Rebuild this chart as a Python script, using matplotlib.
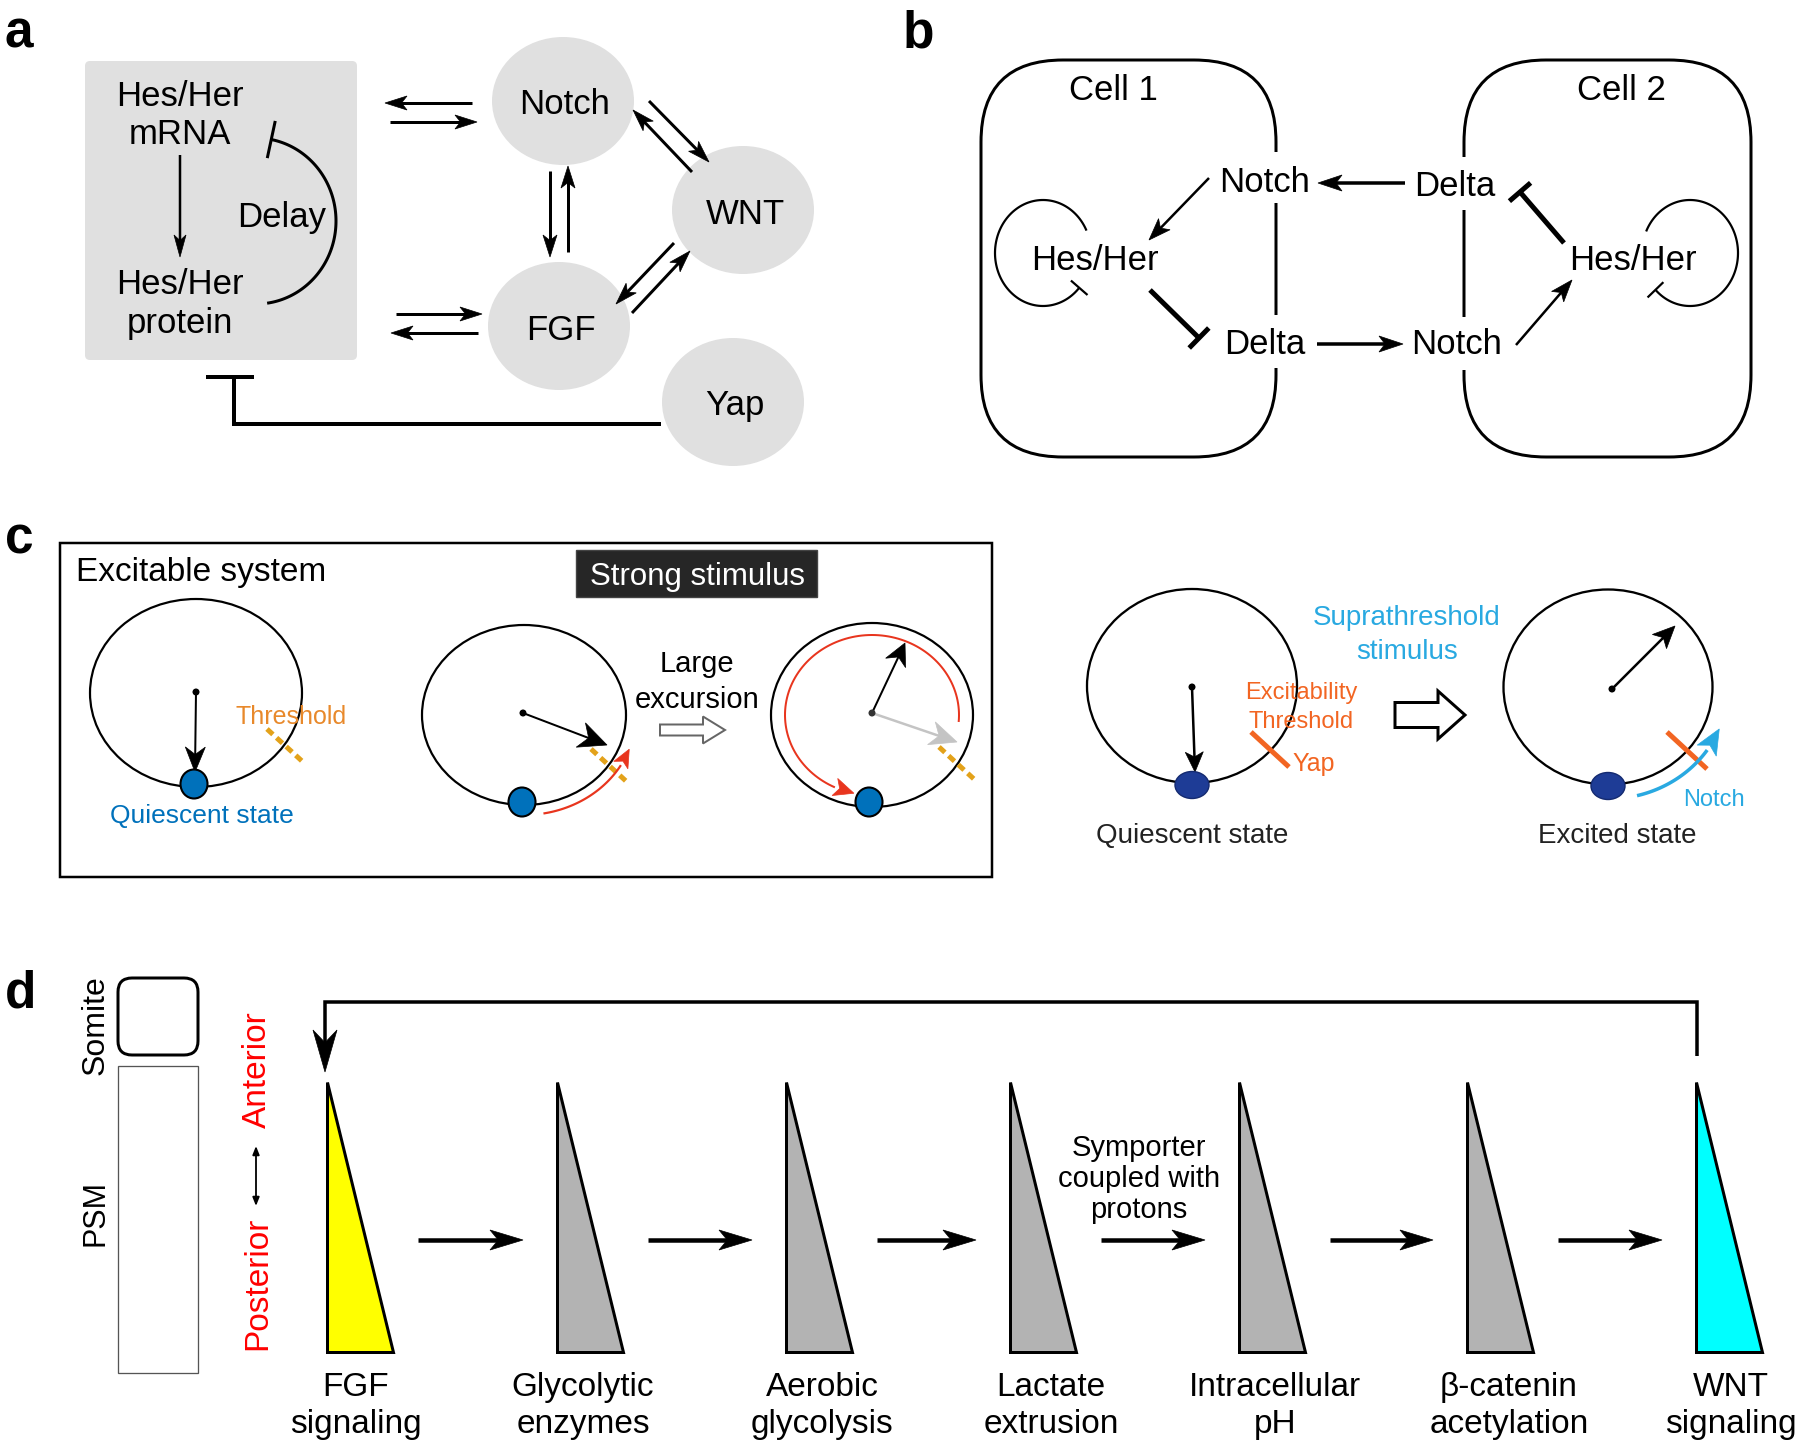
import numpy as np
import matplotlib
matplotlib.use("Agg")
import matplotlib.pyplot as plt
from matplotlib.patches import Ellipse, Polygon, FancyBboxPatch, Rectangle

plt.rcParams['font.family'] = ['Liberation Sans', 'DejaVu Sans']

# ---- content ----
panel_letters = ["a", "b", "c", "d"]

a_nodes = ["Notch", "WNT", "FGF", "Yap"]
a_box_text = [["Hes/Her", "mRNA"], ["Hes/Her", "protein"]]
a_delay = "Delay"

b_cells = ["Cell 1", "Cell 2"]
b_top = ["Notch", "Delta"]
b_bottom = ["Delta", "Notch"]
b_hes = "Hes/Her"

c_title = "Excitable system"
c_stimulus = "Strong stimulus"
c_excursion = ["Large", "excursion"]
c_threshold = "Threshold"
c_quiescent = "Quiescent state"
c_supra = ["Suprathreshold", "stimulus"]
c_excit = ["Excitability", "Threshold"]
c_states = ["Quiescent state", "Excited state"]
c_players = ["Yap", "Notch"]

d_steps = [["FGF", "signaling"], ["Glycolytic", "enzymes"], ["Aerobic", "glycolysis"],
           ["Lactate", "extrusion"], ["Intracellular", "pH"], ["β-catenin", "acetylation"],
           ["WNT", "signaling"]]
d_fills = ["#ffff00", "#b3b3b3", "#b3b3b3", "#b3b3b3", "#b3b3b3", "#b3b3b3", "#00ffff"]
d_note = ["Symporter", "coupled with", "protons"]
d_axis = ["Somite", "PSM", "Anterior", "Posterior"]

PT = 0.72  # points per pixel

fig = plt.figure(figsize=(18, 14.48), dpi=100)
ax = fig.add_axes([0, 0, 1, 1])
ax.set_xlim(0, 1800)
ax.set_ylim(1448, 0)
ax.axis('off')


def txt(x, y, s, fs, color='k', ha='center', weight='normal', z=5):
    ax.text(x, y + fs * 0.5, s, fontsize=fs, color=color, ha=ha, va='baseline',
            fontweight=weight, zorder=z)


def vtxt(x, y, s, fs, color='k'):
    ax.text(x + fs * 0.5, y, s, fontsize=fs, color=color, ha='center', va='baseline',
            rotation=90, rotation_mode='anchor')


def line(xs, ys, lw=3, color='k', z=3, **kw):
    ax.plot(xs, ys, color=color, lw=lw * PT, solid_capstyle='butt',
            solid_joinstyle='miter', zorder=z, **kw)


def head(x0, y0, x1, y1, hl, hw, color='k', notch=0.25, z=4):
    d = np.array([x1 - x0, y1 - y0], float)
    d /= np.hypot(*d)
    n = np.array([-d[1], d[0]])
    tip = np.array([x1, y1], float)
    base = tip - d * hl
    pts = [tip, base + n * hw, tip - d * hl * (1 - notch), base - n * hw]
    ax.add_patch(Polygon(pts, closed=True, fc=color, ec=color, lw=0.5, zorder=z))


def arrow(x0, y0, x1, y1, lw=3, hl=22, hw=7, color='k', notch=0.25):
    d = np.array([x1 - x0, y1 - y0], float)
    d /= np.hypot(*d)
    ex, ey = np.array([x1, y1]) - d * hl * (1 - notch) * 0.9
    line([x0, ex], [y0, ey], lw, color)
    head(x0, y0, x1, y1, hl, hw, color, notch)


def tbar(x0, y0, x1, y1, lw=3, half=12, color='k', blw=None):
    line([x0, x1], [y0, y1], lw, color)
    d = np.array([x1 - x0, y1 - y0], float)
    d /= np.hypot(*d)
    n = np.array([-d[1], d[0]])
    line([x1 + n[0] * half, x1 - n[0] * half], [y1 + n[1] * half, y1 - n[1] * half],
         blw or lw, color)


def arc_pts(cx, cy, rx, ry, t0, t1, n=120):
    t = np.radians(np.linspace(t0, t1, n))
    return cx + rx * np.cos(t), cy + ry * np.sin(t)


def curved_arrow(xs, ys, lw, hl, hw, color='k'):
    dist = np.hypot(xs - xs[-1], ys - ys[-1])
    k = np.where(dist >= hl)[0][-1]
    line(xs[:k + 2], ys[:k + 2], lw, color)
    head(xs[k], ys[k], xs[-1], ys[-1], hl, hw, color)


def hollow(x0, x1, yc, sh, hh, hl, ec, lw):
    pts = [(x0, yc - sh / 2), (x1 - hl, yc - sh / 2), (x1 - hl, yc - hh / 2), (x1, yc),
           (x1 - hl, yc + hh / 2), (x1 - hl, yc + sh / 2), (x0, yc + sh / 2)]
    ax.add_patch(Polygon(pts, closed=True, fc='white', ec=ec, lw=lw * PT, zorder=4,
                         joinstyle='miter'))


# ---- panel letters ----
for letter, (lx, ly) in zip(panel_letters, [(4, 47), (903, 47), (5, 553), (5, 1007)]):
    ax.text(lx, ly, letter, fontsize=37, fontweight='bold', ha='left', va='baseline')

# ---- panel a ----
GRAY = '#e0e0e0'
ax.add_patch(FancyBboxPatch((85, 61), 272, 299, boxstyle='round,pad=0,rounding_size=5',
                            fc=GRAY, ec='none', zorder=1))
for (cx, cy), name in zip([(563, 101), (743, 210), (559, 326), (733, 402)], a_nodes):
    ax.add_patch(Ellipse((cx, cy), 142, 128, fc=GRAY, ec='none', zorder=1))
    txt(cx + 2, cy + 1, name, 25)

txt(180, 93, a_box_text[0][0], 25)
txt(180, 131, a_box_text[0][1], 25)
txt(180, 282, a_box_text[1][0], 25)
txt(180, 320, a_box_text[1][1], 25)
arrow(180, 155, 180, 257, lw=2.5, hl=22, hw=6)

xs, ys = arc_pts(256, 221, 80, 83, 82, -79)
line(xs, ys, 3)
tx, ty = xs[-1], ys[-1]
dx, dy = xs[-1] - xs[-2], ys[-1] - ys[-2]
nrm = np.hypot(dx, dy)
nx, ny = -dy / nrm, dx / nrm
line([tx + nx * 19, tx - nx * 19], [ty + ny * 19, ty - ny * 19], 3)
txt(282, 215, a_delay, 25)

for seg in [(472, 103, 385, 103), (390, 122, 477, 122), (396, 314, 482, 314),
            (478, 333, 391, 333), (550, 171, 550, 257), (568, 252, 568, 166),
            (649, 101, 709, 162), (692, 172, 633, 110), (674, 243, 616, 304),
            (632, 313, 690, 251)]:
    arrow(*seg, lw=3, hl=22, hw=7)

line([661, 234, 234], [424, 424, 377], 4)
line([206, 254], [377, 377], 4)

# ---- panel b ----
for x0, w in [(981, 295), (1464, 287)]:
    ax.add_patch(FancyBboxPatch((x0, 60), w, 397, boxstyle='round,pad=0,rounding_size=82',
                                fc='none', ec='k', lw=3 * PT, zorder=2))
for gx, g0, g1 in [(1276, 152, 203), (1276, 315, 368), (1464, 157, 210), (1464, 317, 370)]:
    ax.add_patch(Rectangle((gx - 6, g0), 12, g1 - g0, fc='white', ec='none', zorder=2.5))

txt(1113, 88, b_cells[0], 25)
txt(1621, 88, b_cells[1], 25)
txt(1265, 180, b_top[0], 25)
txt(1455, 183, b_top[1], 25)
txt(1265, 342, b_bottom[0], 25)
txt(1457, 342, b_bottom[1], 25)
txt(1095, 257, b_hes, 25)
txt(1633, 257, b_hes, 25)

arrow(1405, 183, 1318, 183, lw=3.5, hl=24, hw=8)
arrow(1317, 344, 1403, 344, lw=3.5, hl=24, hw=8)
arrow(1209, 178, 1149, 240, lw=2.5, hl=22, hw=8)
arrow(1516, 345, 1572, 280, lw=2.5, hl=22, hw=8)
tbar(1150, 290, 1199, 338, lw=5, half=14)
tbar(1564, 243, 1520, 192, lw=5, half=14)

for (cx, t0, t1) in [(1043, -25, -319), (1690, 204, 496)]:
    xs, ys = arc_pts(cx, 253, 48, 53, t0, t1)
    line(xs, ys, 2.2)
    tt = np.radians(t1)
    ex, ey = xs[-1], ys[-1]
    rx_, ry_ = np.cos(tt), np.sin(tt)
    line([ex - rx_ * 11, ex + rx_ * 11], [ey - ry_ * 11, ey + ry_ * 11], 2.2)

# ---- panel c ----
ax.add_patch(Rectangle((60, 543), 932, 334, fc='none', ec='k', lw=2.5 * PT, zorder=2))
txt(76, 569, c_title, 24, ha='left')
ax.add_patch(Rectangle((576, 550), 241, 47, fc='#262626', ec='#444444', lw=1, zorder=2))
txt(697, 574, c_stimulus, 22.5, color='white')

BLUE = '#0071bb'
DBLUE = '#1e3c96'
GOLD = '#e3a21a'
RED = '#e8351e'
ORANGE = '#f26522'
SKY = '#29a9e1'

# circle 1
ax.add_patch(Ellipse((196, 693), 212, 188, fc='none', ec='k', lw=2.2 * PT, zorder=2))
ax.add_patch(Ellipse((196, 692), 7, 7, fc='k', ec='none', zorder=4))
arrow(196, 692, 195, 772, lw=2, hl=25, hw=10, notch=0.3)
ax.add_patch(Ellipse((194, 784), 27, 29, fc=BLUE, ec='k', lw=1.5, zorder=5))
line([267, 303], [729, 762], 5, GOLD, ls=(0, (1.6, 1.0)))
txt(236, 715, c_threshold, 18, color='#e8892b', ha='left')
txt(202, 813, c_quiescent, 19, color=BLUE)

# circle 2
ax.add_patch(Ellipse((524, 715), 204, 180, fc='none', ec='k', lw=2.2 * PT, zorder=2))
ax.add_patch(Ellipse((523, 713), 7, 7, fc='k', ec='none', zorder=4))
arrow(523, 713, 607, 745, lw=2, hl=28, hw=13, notch=0.3)
line([591, 627], [749, 782], 5, GOLD, ls=(0, (1.6, 1.0)))
xs, ys = arc_pts(524, 715, 112, 100, 80, 20)
curved_arrow(xs, ys, 2.2, 18, 8, RED)
ax.add_patch(Ellipse((522, 802), 27, 29, fc=BLUE, ec='k', lw=1.5, zorder=5))

txt(697, 661, c_excursion[0], 21)
txt(697, 698, c_excursion[1], 21)
hollow(660, 725, 730, 11, 27, 22, '#666666', 2)

# circle 3
ax.add_patch(Ellipse((872, 715), 202, 184, fc='none', ec='k', lw=2.2 * PT, zorder=2))
xs, ys = arc_pts(872, 715, 87, 80, 5, -258)
curved_arrow(xs, ys, 2, 20, 9, RED)
arrow(872, 713, 957, 742, lw=2.5, hl=27, hw=12, color='#c4c4c4', notch=0.3)
arrow(872, 713, 905, 643, lw=2, hl=22, hw=11, notch=0.3)
ax.add_patch(Ellipse((872, 713), 7, 7, fc='#333333', ec='none', zorder=5))
line([939, 975], [747, 780], 5, GOLD, ls=(0, (1.6, 1.0)))
ax.add_patch(Ellipse((869, 802), 27, 29, fc=BLUE, ec='k', lw=1.5, zorder=5))

# circle 4 (right)
ax.add_patch(Ellipse((1192, 686), 210, 194, fc='none', ec='k', lw=2.3 * PT, zorder=2))
ax.add_patch(Ellipse((1192, 687), 7, 7, fc='k', ec='none', zorder=4))
arrow(1192, 687, 1195, 772, lw=2.5, hl=20, hw=9)
ax.add_patch(Ellipse((1192, 785), 34, 27, fc=DBLUE, ec='#142a70', lw=1, zorder=5))
txt(1301, 691, c_excit[0], 17, color=ORANGE)
txt(1301, 720, c_excit[1], 17, color=ORANGE)
line([1251, 1289], [732, 767], 5, ORANGE)
txt(1292, 762, c_players[0], 18, color=ORANGE, ha='left')
txt(1407, 615, c_supra[0], 20, color=SKY)
txt(1407, 649, c_supra[1], 20, color=SKY)
hollow(1395, 1465, 715, 25, 48, 27, 'k', 3)
txt(1192, 833, c_states[0], 20, color='#222222')

# circle 5
ax.add_patch(Ellipse((1608, 687), 209, 195, fc='none', ec='k', lw=2.3 * PT, zorder=2))
ax.add_patch(Ellipse((1612, 689), 7, 7, fc='k', ec='none', zorder=4))
arrow(1612, 689, 1675, 626, lw=2.5, hl=22, hw=10)
ax.add_patch(Ellipse((1608, 786), 34, 27, fc=DBLUE, ec='#142a70', lw=1, zorder=5))
line([1667, 1707], [732, 769], 5, ORANGE)
xs, ys = arc_pts(1608, 687, 120, 112, 76, 22)
curved_arrow(xs, ys, 3.5, 25, 11, SKY)
txt(1714, 797, c_players[1], 17, color=SKY)
txt(1617, 833, c_states[1], 20, color='#222222')

# ---- panel d ----
ax.add_patch(FancyBboxPatch((118, 978), 80, 77, boxstyle='round,pad=0,rounding_size=14',
                            fc='none', ec='k', lw=3 * PT, zorder=2))
ax.add_patch(Rectangle((118, 1066), 80, 307, fc='none', ec='#555555', lw=1.3 * PT, zorder=2))
vtxt(92, 1025, d_axis[0], 23)
vtxt(92, 1213, d_axis[1], 22)
vtxt(254, 1070, d_axis[2], 24, color='red')
vtxt(254, 1283, d_axis[3], 24, color='red')
ax.annotate('', xy=(256, 1146), xytext=(256, 1206),
            arrowprops=dict(arrowstyle='<|-|>,head_length=0.5,head_width=0.2',
                            color='k', lw=1.3, shrinkA=0, shrinkB=0))

tri_left = [327, 557, 786, 1010, 1239, 1467, 1696]
label_x = [356, 583, 822, 1051, 1275, 1509, 1731]
TW, TTOP, TBOT = 66, 1082, 1352
for i, (xl, step, fill) in enumerate(zip(tri_left, d_steps, d_fills)):
    ax.add_patch(Polygon([(xl, TTOP), (xl, TBOT), (xl + TW, TBOT)], closed=True,
                         fc=fill, ec='k', lw=3 * PT, joinstyle='miter', zorder=3))
    txt(label_x[i], 1384, step[0], 24)
    txt(label_x[i], 1421, step[1], 24)
    if i < len(tri_left) - 1:
        arrow(xl + TW + 25, 1240, tri_left[i + 1] - 34, 1240, lw=4.5, hl=33, hw=10, notch=0.25)

for k, s in enumerate(d_note):
    txt(1139, 1145 + k * 31.5, s, 21)

line([1697, 1697, 325, 325], [1056, 1002, 1002, 1045], 3.5)
head(325, 1030, 325, 1072, 42, 12, notch=0.3)

fig.savefig('out.png', dpi=100)
